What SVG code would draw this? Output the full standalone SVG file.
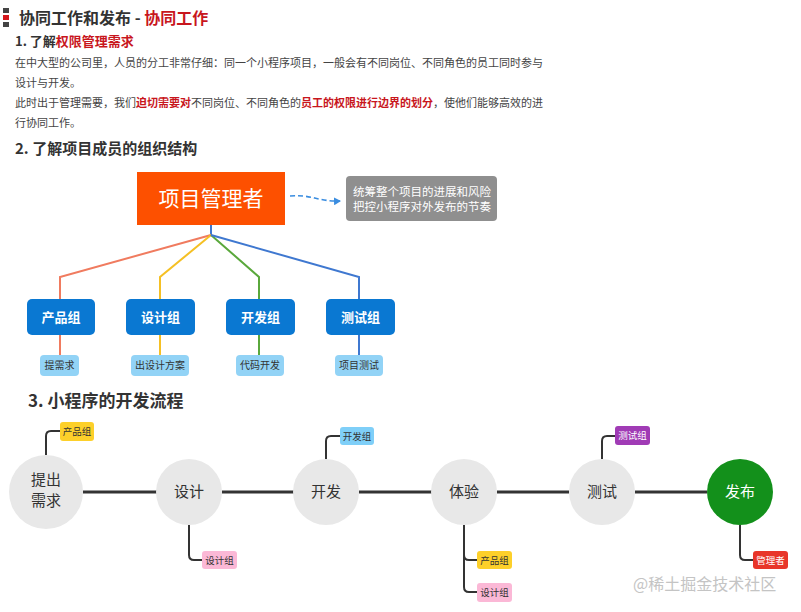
<svg xmlns="http://www.w3.org/2000/svg" width="801" height="612" viewBox="0 0 801 612">
<defs>
<style>
text{font-family:"Noto Sans CJK SC","Noto Sans",sans-serif;}
.h{font-weight:bold;fill:#333;}
.red{fill:#c8161d;font-weight:bold;}
.p{font-size:11px;fill:#444;}
.grp rect{fill:#0a78d2;}
.grp text{fill:#fff;font-size:13px;font-weight:bold;text-anchor:middle;}
.sub rect{fill:#92d3f6;}
.sub text{fill:#333;font-size:10px;text-anchor:middle;}
.circ circle{fill:#e8e8e8;}
.circ text{fill:#333;font-size:15px;text-anchor:middle;}
.tag text{font-size:9.5px;text-anchor:middle;}
.flow{stroke:#333;stroke-width:3;fill:none;}
.tl{stroke:#333;stroke-width:2;fill:none;}
</style>
<marker id="ah" markerWidth="8" markerHeight="8" refX="6" refY="4" orient="auto" markerUnits="userSpaceOnUse">
<path d="M0,0 L7,4 L0,8 Z" fill="#3a8de0"/>
</marker>
</defs>
<rect width="801" height="612" fill="#fff"/>

<g id="header">
<rect x="3" y="8" width="6" height="5" fill="#444"/>
<rect x="3" y="15" width="6" height="5" fill="#d4161c"/>
<rect x="3" y="22" width="6" height="5" fill="#444"/>
<text x="19" y="24" class="h" font-size="16">协同工作和发布 - <tspan class="red" fill="#d4161c">协同工作</tspan></text>
<text x="15" y="46" class="h" font-size="13">1. 了解<tspan class="red">权限管理需求</tspan></text>
<text x="15" y="67" class="p">在中大型的公司里，人员的分工非常仔细：同一个小程序项目，一般会有不同岗位、不同角色的员工同时参与</text>
<text x="15" y="87" class="p">设计与开发。</text>
<text x="15" y="107" class="p">此时出于管理需要，我们<tspan class="red">迫切需要对</tspan>不同岗位、不同角色的<tspan class="red">员工的权限进行边界的划分</tspan>，使他们能够高效的进</text>
<text x="15" y="127" class="p">行协同工作。</text>
<text x="15" y="154" class="h" font-size="15">2. 了解项目成员的组织结构</text>
<text x="28" y="407" class="h" font-size="17">3. 小程序的开发流程</text>
</g>

<g id="connectors">
<g fill="none" stroke-width="2">
<path d="M211,225 V235" stroke="#3f78d0"/>
<path d="M211,235 L60,277 V355" stroke="#f07b5f"/>
<path d="M211,235 L160,277 V355" stroke="#f5c024"/>
<path d="M211,235 L259,277 V355" stroke="#5aa83c"/>
<path d="M211,235 L359,277 V355" stroke="#3f78d0"/>
</g>
<path d="M290,196 C310,194 320,202 340,201" fill="none" stroke="#3a8de0" stroke-width="1.6" stroke-dasharray="5 3" marker-end="url(#ah)"/>
<path class="flow" d="M83,492 H157 M222,492 H294 M359,492 H432 M497,492 H569 M635,492 H707"/>
<path class="tl" d="M46,455 V436 Q46,431 51,431 H60"/>
<path class="tl" d="M189,525 V555 Q189,560 194,560 H202"/>
<path class="tl" d="M326,459 V441 Q326,436 331,436 H340"/>
<path class="tl" d="M464,525 V587 Q464,592 469,592 H477 M464,555 Q464,560 469,560 H477"/>
<path class="tl" d="M602,459 V441 Q602,436 607,436 H615"/>
<path class="tl" d="M740,525 V555 Q740,560 745,560 H753"/>
</g>

<g id="pm">
<rect x="137" y="172" width="148" height="53" fill="#fd5000"/>
<text x="211" y="206" fill="#fff" font-size="21" text-anchor="middle">项目管理者</text>
</g>
<g id="note">
<rect x="346" y="176" width="151" height="45" rx="4" fill="#8f8f8f"/>
<text x="422" y="196" fill="#fff" font-size="11.5" text-anchor="middle">统筹整个项目的进展和风险</text>
<text x="422" y="211" fill="#fff" font-size="11.5" text-anchor="middle">把控小程序对外发布的节奏</text>
</g>

<g id="g-product" class="grp"><rect x="27" y="299" width="68" height="36" rx="5"/><text x="61" y="322">产品组</text></g>
<g id="g-design" class="grp"><rect x="126" y="299" width="69" height="36" rx="5"/><text x="160.5" y="322">设计组</text></g>
<g id="g-dev" class="grp"><rect x="226" y="299" width="69" height="36" rx="5"/><text x="260.5" y="322">开发组</text></g>
<g id="g-test" class="grp"><rect x="326" y="299" width="69" height="36" rx="5"/><text x="360.5" y="322">测试组</text></g>

<g id="s-req" class="sub"><rect x="40" y="355" width="39" height="21" rx="4"/><text x="59.5" y="369">提需求</text></g>
<g id="s-design" class="sub"><rect x="131" y="355" width="58" height="21" rx="4"/><text x="160" y="369">出设计方案</text></g>
<g id="s-code" class="sub"><rect x="236" y="355" width="48" height="21" rx="4"/><text x="260" y="369">代码开发</text></g>
<g id="s-test" class="sub"><rect x="335" y="355" width="48" height="21" rx="4"/><text x="359" y="369">项目测试</text></g>

<g id="c-req" class="circ"><circle cx="46" cy="492" r="37"/><text x="46" y="485" font-size="13.5"><tspan x="46">提出</tspan><tspan x="46" dy="20.5">需求</tspan></text></g>
<g id="c-design" class="circ"><circle cx="189" cy="492" r="33"/><text x="189" y="497">设计</text></g>
<g id="c-dev" class="circ"><circle cx="326" cy="492" r="33"/><text x="326" y="497">开发</text></g>
<g id="c-exp" class="circ"><circle cx="464" cy="492" r="33"/><text x="464" y="497">体验</text></g>
<g id="c-test" class="circ"><circle cx="602" cy="492" r="33"/><text x="602" y="497">测试</text></g>
<g id="c-pub"><circle cx="740" cy="492" r="33" fill="#13901b"/><text x="740" y="497" fill="#fff" font-size="15" text-anchor="middle">发布</text></g>

<g id="t1" class="tag"><rect x="60" y="422" width="34" height="19" rx="3" fill="#fdd02a"/><text x="77" y="435" fill="#333">产品组</text></g>
<g id="t2" class="tag"><rect x="202" y="551" width="35" height="18" rx="3" fill="#fbb8d6"/><text x="219.5" y="563.5" fill="#333">设计组</text></g>
<g id="t3" class="tag"><rect x="340" y="427" width="34" height="18" rx="3" fill="#7fcff8"/><text x="357" y="439.5" fill="#333">开发组</text></g>
<g id="t4" class="tag"><rect x="477" y="551" width="35" height="18" rx="3" fill="#fdd02a"/><text x="494.5" y="563.5" fill="#333">产品组</text></g>
<g id="t5" class="tag"><rect x="477" y="583" width="35" height="19" rx="3" fill="#fbb8d6"/><text x="494.5" y="596" fill="#333">设计组</text></g>
<g id="t6" class="tag"><rect x="615" y="426" width="35" height="19" rx="3" fill="#a03bb5"/><text x="632.5" y="439" fill="#fff">测试组</text></g>
<g id="t7" class="tag"><rect x="753" y="551" width="35" height="18" rx="3" fill="#e8362a"/><text x="770.5" y="563.5" fill="#fff">管理者</text></g>

<text x="633" y="590" fill="#c4c4c4" font-size="16">@稀土掘金技术社区</text>
</svg>
